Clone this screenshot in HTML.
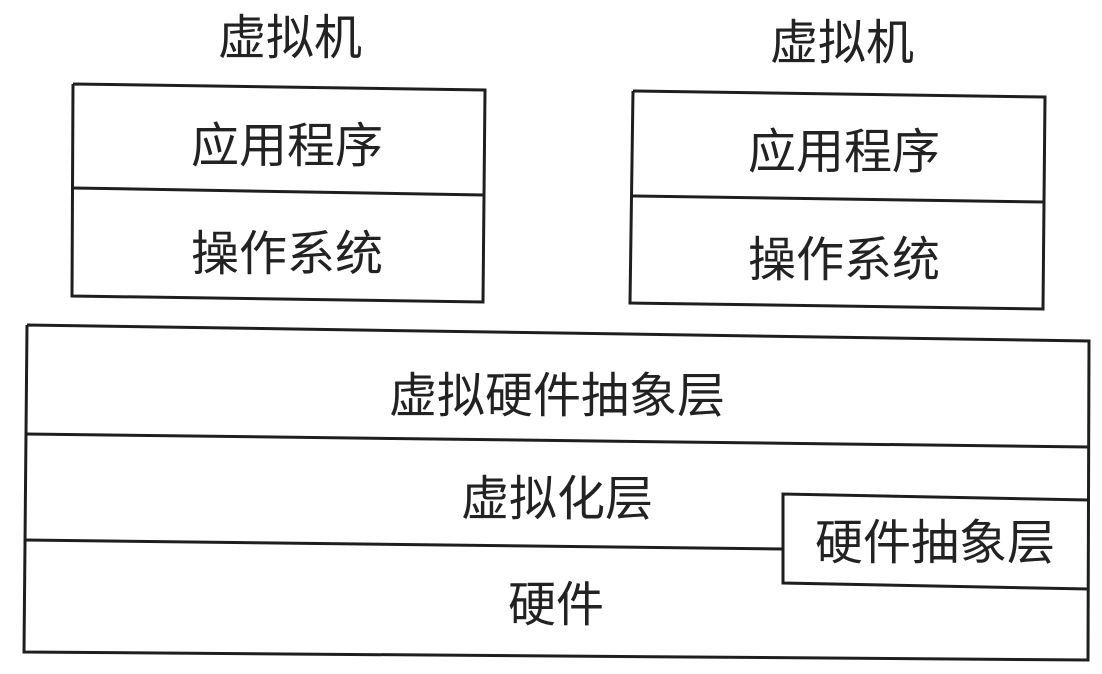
<!DOCTYPE html>
<html><head><meta charset="utf-8"><style>
html,body{margin:0;padding:0;background:#fff}
svg{display:block}
text{font-family:"Liberation Sans","Noto Sans CJK SC",sans-serif;font-size:48px;fill:#222;text-anchor:middle}
line,polyline{stroke:#1e1e1e;stroke-width:3;fill:none}
</style></head><body>
<svg width="1102" height="674" viewBox="0 0 1102 674">
<text x="290" y="54">虚拟机</text>
<text x="842" y="59">虚拟机</text>
<polyline points="73,84 485,90 483,302 72,296 73,84"/>
<line x1="73" y1="188" x2="484" y2="195"/>
<text x="287" y="162">应用程序</text>
<text x="287" y="270">操作系统</text>
<polyline points="633,91 1045,97 1043,309 630,303 633,91"/>
<line x1="632" y1="196" x2="1044" y2="202"/>
<text x="844" y="168">应用程序</text>
<text x="844" y="276">操作系统</text>
<polyline points="27,325 1089,341 1088,660 24,652 27,325"/>
<line x1="26" y1="434" x2="1089" y2="447"/>
<line x1="25" y1="540" x2="783" y2="549"/>
<polyline points="1089,500 783,494 783,583 1089,589"/>
<text x="557" y="412">虚拟硬件抽象层</text>
<text x="557" y="515">虚拟化层</text>
<text x="935" y="559">硬件抽象层</text>
<text x="556" y="621">硬件</text>
</svg>
</body></html>
